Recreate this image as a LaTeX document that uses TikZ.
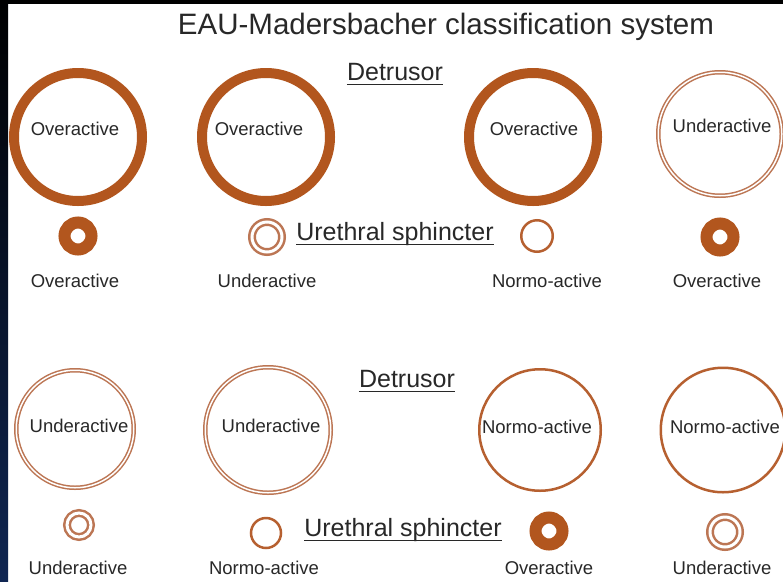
\documentclass[tikz,border=0pt]{standalone}
\usepackage{fontspec}
\setmainfont{Liberation Sans}
\definecolor{thickc}{RGB}{178,86,30}
\definecolor{thinc}{RGB}{188,118,84}
\definecolor{normc}{RGB}{182,96,48}
\definecolor{txtc}{RGB}{40,40,40}
\definecolor{navyc}{RGB}{16,38,82}
\tikzset{
  bigover/.style={circle,draw=thickc,line width=10pt,inner sep=0pt,minimum size=128pt},
  smallover/.style={circle,draw=thickc,line width=12pt,inner sep=0pt,minimum size=27pt},
  bigunder/.style={circle,draw=thinc,double=white,line width=1.5pt,double distance=1.5pt,inner sep=0pt,minimum size=#1},
  smallunder/.style={circle,draw=thinc,double=white,line width=2.5pt,double distance=3pt,inner sep=0pt,minimum size=#1},
  bignormo/.style={circle,draw=normc,line width=2.5pt,inner sep=0pt,minimum size=#1},
  smallnormo/.style={circle,draw=normc,line width=2.5pt,inner sep=0pt,minimum size=#1},
  txt/.style={inner sep=0pt,text=txtc,font=\fontsize{18.5}{20}\selectfont},
  head/.style={inner sep=0pt,text=txtc,font=\fontsize{25}{28}\selectfont},
  uline/.style={draw=txtc,line width=1.6pt},
  titlec/.style={inner sep=0pt,text=txtc,font=\fontsize{29.5}{32}\selectfont}
}
\begin{document}
\begin{tikzpicture}[x=1pt,y=-1pt]
\useasboundingbox (0,0) rectangle (783,581);
\fill[white] (0,0) rectangle (783,581);
\fill[black] (0,0) rectangle (783,4);
\shade[top color=black,bottom color=navyc] (0,0) rectangle (8,581);

\node[titlec] (title) at (446,27) {EAU-Madersbacher classification system};

% top row
\node[head] (det1) at (395,72) {Detrusor};
\draw[uline] ([yshift=-4pt]det1.base west) -- ([yshift=-4pt]det1.base east);
\node[head] (ure1) at (395,234) {Urethral sphincter};
\draw[uline] ([yshift=-4pt]ure1.base west) -- ([yshift=-4pt]ure1.base east);

\node[bigover] (d11) at (78,137) {};
\node[txt] (d11t) at (75,129) {Overactive};
\node[bigover] (d12) at (266,137) {};
\node[txt] (d12t) at (259,129) {Overactive};
\node[bigover] (d13) at (533,137) {};
\node[txt] (d13t) at (534,129) {Overactive};
\node[bigunder=123.5pt] (d14) at (720,134) {};
\node[txt] (d14t) at (722,126) {Underactive};

\node[smallover] (s11) at (78,236) {};
\node[smallunder=30pt] (s12) at (267,237) {};
\node[smallnormo=31.5pt] (s13) at (537,236) {};
\node[smallover] (s14) at (720,237) {};

\node[txt] (l11) at (75,281) {Overactive};
\node[txt] (l12) at (267,281) {Underactive};
\node[txt] (l13) at (547,281) {Normo-active};
\node[txt] (l14) at (717,281) {Overactive};

% bottom row
\node[head] (det2) at (407,379) {Detrusor};
\draw[uline] ([yshift=-4pt]det2.base west) -- ([yshift=-4pt]det2.base east);
\node[head] (ure2) at (403,530) {Urethral sphincter};
\draw[uline] ([yshift=-4pt]ure2.base west) -- ([yshift=-4pt]ure2.base east);

\node[bigunder=117.5pt] (d21) at (75,429) {};
\node[txt] (d21t) at (79,426) {Underactive};
\node[bigunder=125.5pt] (d22) at (268,430) {};
\node[txt] (d22t) at (271,426) {Underactive};
\node[bignormo=121.5pt] (d23) at (540,430) {};
\node[txt] (d23t) at (537,427) {Normo-active};
\node[bignormo=124.5pt] (d24) at (723,430) {};
\node[txt] (d24t) at (725,427) {Normo-active};

\node[smallunder=24pt] (s21) at (79,525) {};
\node[smallnormo=30pt] (s22) at (266,533) {};
\node[smallover] (s23) at (549,531) {};
\node[smallunder=30pt] (s24) at (725,532) {};

\node[txt] (l21) at (78,568) {Underactive};
\node[txt] (l22) at (264,568) {Normo-active};
\node[txt] (l23) at (549,568) {Overactive};
\node[txt] (l24) at (722,568) {Underactive};
\end{tikzpicture}
\end{document}
